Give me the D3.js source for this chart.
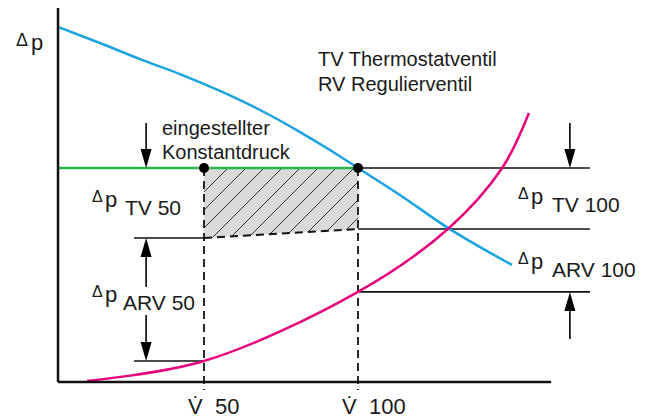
<!DOCTYPE html>
<html>
<head>
<meta charset="utf-8">
<script src="https://cdn.jsdelivr.net/npm/d3@7"></script>
<style>
  html, body { margin: 0; padding: 0; background: #fff; }
  svg { display: block; font-family: "Liberation Sans", Arial, sans-serif; }
</style>
</head>
<body>
<svg id="chart" width="645" height="419"></svg>
<script>
// volume flow in % (V 50 / V 100), pressure difference relative to the set pressure (= 100)
const flowTicks = [50, 100];
const flowTickLabels = ["50", "100"];

// pump curve (blue)
const pumpFlow = [2.6, 16.2, 29.2, 42.2, 55.2, 68.2, 81.2, 90.9, 100, 113.6, 129.2, 150.0];
const pumpDp = [165.9, 158.4, 150.9, 143.9, 136.0, 127.1, 116.8, 108.4, 100, 87.4, 72.0, 54.7];

// system curve (pink)
const systemFlow = [12.0, 50, 100, 129.2, 146.8, 155.5];
const systemDp = [0.5, 9.8, 42.1, 71.5, 100, 125.7];

// eingestellter Konstantdruck
const setPressure = 100;
// lower edge of the TV share (dashed)
const tvFlow = [50, 100];
const tvDp = [67.3, 71.5];
// ARV share at V 50 / V 100
const arvDp = [9.8, 42.1];

const axisFlow = [2.6, 162.7];
const axisDp = [0, 174.8];

const blue = "#1aa3e0";
const pink = "#e6007e";
const green = "#2fb34a";

const svg = d3.select("#chart");
const x = d3.scaleLinear().domain([0, 100]).range([50, 358]);
const y = d3.scaleLinear().domain([0, 100]).range([382, 168]);

// hatch pattern
const defs = svg.append("defs");
const pat = defs.append("pattern")
  .attr("id", "hatch")
  .attr("patternUnits", "userSpaceOnUse")
  .attr("width", 18)
  .attr("height", 18);
pat.append("rect").attr("width", 18).attr("height", 18).attr("fill", "#dadada");
pat.append("path")
  .attr("d", "M0,18 L18,0 M-4,4 L4,-4 M14,22 L22,14")
  .attr("stroke", "#333")
  .attr("stroke-width", 1);

// hatched area between set pressure and TV lower edge
const area = [
  [tvFlow[0], setPressure],
  [tvFlow[1], setPressure],
  [tvFlow[1], tvDp[1]],
  [tvFlow[0], tvDp[0]],
];
svg.append("path")
  .attr("d", "M" + area.map((d) => [x(d[0]), y(d[1])].join(",")).join("L") + "Z")
  .attr("fill", "url(#hatch)");

// reference lines
function hline(f0, f1, dp, w = 1.6) {
  svg.append("line")
    .attr("x1", x(f0)).attr("x2", x(f1))
    .attr("y1", y(dp)).attr("y2", y(dp))
    .attr("stroke", "#111").attr("stroke-width", w);
}
hline(flowTicks[1], 175.3, setPressure);
hline(flowTicks[1], 175.3, tvDp[1]);
hline(flowTicks[1], 175.3, arvDp[1]);
hline(27.3, flowTicks[0], tvDp[0]);
hline(27.3, flowTicks[0], arvDp[0]);

// dashed verticals
flowTicks.forEach((f) => {
  svg.append("line")
    .attr("x1", x(f)).attr("x2", x(f))
    .attr("y1", y(setPressure)).attr("y2", y(0) + 8)
    .attr("stroke", "#111").attr("stroke-width", 1.8)
    .attr("stroke-dasharray", "8,5");
});
svg.append("line")
  .attr("x1", x(tvFlow[0])).attr("y1", y(tvDp[0]))
  .attr("x2", x(tvFlow[1])).attr("y2", y(tvDp[1]))
  .attr("stroke", "#111").attr("stroke-width", 2)
  .attr("stroke-dasharray", "8,5");

// set pressure line (green)
svg.append("line")
  .attr("x1", x(axisFlow[0])).attr("x2", x(flowTicks[1]))
  .attr("y1", y(setPressure)).attr("y2", y(setPressure))
  .attr("stroke", green).attr("stroke-width", 2.5);

// curves
const pumpLine = d3.line()
  .x((d) => x(d[0])).y((d) => y(d[1]))
  .curve(d3.curveMonotoneX);
svg.append("path")
  .attr("d", pumpLine(d3.zip(pumpFlow, pumpDp)))
  .attr("fill", "none").attr("stroke", blue).attr("stroke-width", 2.5);

const systemLine = d3.line()
  .x((d) => x(d[0])).y((d) => y(d[1]))
  .curve(d3.curveCatmullRom.alpha(0.5));
svg.append("path")
  .attr("d", systemLine(d3.zip(systemFlow, systemDp)))
  .attr("fill", "none").attr("stroke", pink).attr("stroke-width", 2.5);

// axes
svg.append("line")
  .attr("x1", x(axisFlow[0])).attr("x2", x(axisFlow[0]))
  .attr("y1", y(axisDp[0])).attr("y2", y(axisDp[1]))
  .attr("stroke", "#111").attr("stroke-width", 2.5);
svg.append("line")
  .attr("x1", x(axisFlow[0])).attr("x2", x(axisFlow[1]))
  .attr("y1", y(axisDp[0])).attr("y2", y(axisDp[0]))
  .attr("stroke", "#111").attr("stroke-width", 2.5);

// dots
svg.selectAll("circle.pt")
  .data(flowTicks)
  .enter()
  .append("circle")
  .attr("class", "pt")
  .attr("cx", (d) => x(d))
  .attr("cy", y(setPressure))
  .attr("r", 5)
  .attr("fill", "#000");

// arrows: stem from dpFrom to dpTo, head at dpTo
function arrow(f, dpFrom, dpTo) {
  const px = x(f), y0 = y(dpFrom), y1 = y(dpTo);
  const dir = y1 > y0 ? 1 : -1;
  const hl = 19, hw = 5.5;
  svg.append("line")
    .attr("x1", px).attr("x2", px)
    .attr("y1", y0).attr("y2", y1 - dir * hl)
    .attr("stroke", "#000").attr("stroke-width", 1.6);
  svg.append("path")
    .attr("d", `M${px},${y1} L${px - hw},${y1 - dir * hl} L${px + hw},${y1 - dir * hl} Z`)
    .attr("fill", "#000");
}
arrow(31.2, 121, setPressure);
arrow(168.8, 121, setPressure);
arrow(168.8, 20.1, arvDp[1]);
arrow(31.2, 44.4, tvDp[0]);
arrow(31.2, 31.3, arvDp[0]);

// texts
function txt(tx, ty, s, size) {
  return svg.append("text")
    .attr("x", tx).attr("y", ty)
    .attr("font-size", size)
    .attr("fill", "#1a1a1a")
    .text(s);
}
function dpLabel(tx, ty, sub, subX) {
  txt(tx, ty - 13, "\u0394", 16);
  txt(tx + 13, ty - 8, "p", 22);
  txt(subX, ty, sub, 21);
}

txt(16, 46, "\u0394", 18);
txt(31, 50, "p", 22);

txt(318, 66, "TV Thermostatventil", 20);
txt(318, 91, "RV Regulierventil", 20);

txt(162, 135, "eingestellter", 20);
txt(162, 159, "Konstantdruck", 20);

dpLabel(92, 215, "TV 50", 125);
dpLabel(92, 310, "ARV 50", 123);
dpLabel(518, 212, "TV 100", 552);
dpLabel(518, 277, "ARV 100", 552);

flowTicks.forEach((f, i) => {
  txt(x(f) - 16, 414, "V\u0307", 22);
  txt(x(f) + 11, 414, flowTickLabels[i], 22);
});
</script>
</body>
</html>
